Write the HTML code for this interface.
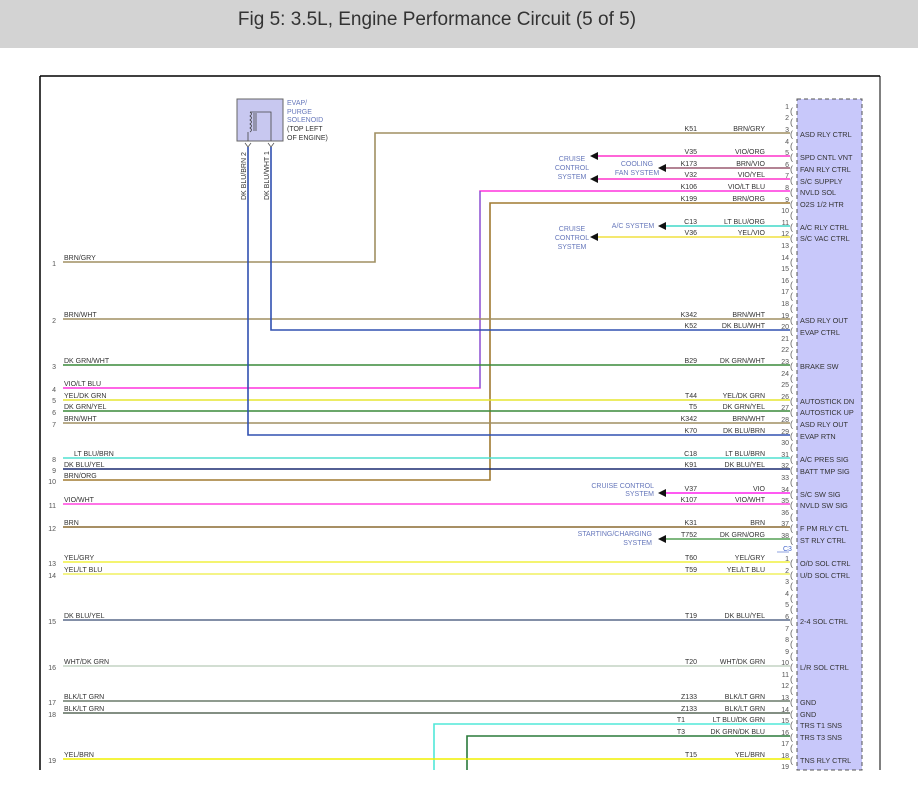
<!DOCTYPE html>
<html><head><meta charset="utf-8"><style>
html,body{margin:0;padding:0;background:#fff;}
body{width:918px;height:790px;overflow:hidden;position:relative;font-family:"Liberation Sans",sans-serif;}
#hdr{position:absolute;left:0;top:0;width:918px;height:48px;background:#d3d3d3;}
#hdr div{position:absolute;left:0;width:874px;top:9px;text-align:center;font-size:19px;color:#333;font-family:"Liberation Sans Narrow","Liberation Sans",sans-serif;}
svg{position:absolute;left:0;top:0;}
svg text{font-family:"Liberation Sans",sans-serif;}
.n{font-size:7px;fill:#555;text-anchor:end;}
.w{font-size:7px;fill:#333;text-anchor:end;}
.c{font-size:7px;fill:#333;text-anchor:end;}
.s{font-size:7.3px;fill:#333;}
.l{font-size:7px;fill:#333;}
.ln{font-size:7px;fill:#555;text-anchor:end;}
.b{font-size:9px;fill:#666;}
.sys{font-size:7px;fill:#6677bb;}
</style></head><body>
<div id="hdr"><div>Fig 5: 3.5L, Engine Performance Circuit (5 of 5)</div></div>
<svg width="918" height="790" viewBox="0 0 918 790">
<line x1="40" y1="76" x2="880" y2="76" stroke="#000" stroke-width="1.5"/>
<line x1="40" y1="76" x2="40" y2="770" stroke="#000" stroke-width="1.5"/>
<line x1="880" y1="76" x2="880" y2="770" stroke="#000" stroke-width="1"/>
<rect x="797" y="99" width="65" height="671" fill="#c8c8fa" stroke="#555" stroke-dasharray="4,3"/>
<!-- solenoid -->
<rect x="237" y="99" width="46" height="42" fill="#c8c8f0" stroke="#666"/>
<path d="M248 141 V132 M250 132 q3 -2 0 -4 q3 -2 0 -4 q3 -2 0 -4 q3 -2 0 -4 q3 -2 0 -4 M250 112 H271 V141" fill="none" stroke="#444" stroke-width="0.8"/>
<line x1="254" y1="113" x2="254" y2="131" stroke="#444" stroke-width="0.8"/>
<line x1="256" y1="113" x2="256" y2="131" stroke="#444" stroke-width="0.8"/>
<text x="287" y="105" class="sys">EVAP/</text>
<text x="287" y="114" class="sys">PURGE</text>
<text x="287" y="122" class="sys">SOLENOID</text>
<text x="287" y="131" class="l">(TOP LEFT</text>
<text x="287" y="140" class="l">OF ENGINE)</text>
<text transform="translate(246,200) rotate(-90)" class="l">DK BLU/BRN  2</text>
<text transform="translate(269,200) rotate(-90)" class="l">DK BLU/WHT  1</text>
<path d="M245 143 l3 4 l3 -4 M268 143 l3 4 l3 -4" fill="none" stroke="#555" stroke-width="0.8"/>
<!-- wires -->
<g fill="none" stroke-width="1.6">
<path d="M63 262 H375 V133 H790" stroke="#a08f62"/>
<path d="M597 156 H790" stroke="#ff33cc"/>
<path d="M665 168 H790" stroke="#9a5a70"/>
<path d="M597 179 H790" stroke="#ff33cc"/>
<path d="M790 191 H480 V388 H63" stroke="#ff33dd"/>
<path d="M480 191 V388" stroke="#5070d0" stroke-width="1"/>
<path d="M790 203 H490 V480 H63" stroke="#a07a30"/>
<path d="M665 226 H790" stroke="#40d8c8"/>
<path d="M597 237 H790" stroke="#f0e040"/>
<path d="M63 319 H790" stroke="#a08f62"/>
<path d="M790 330 H271 V147" stroke="#3050b0"/>
<path d="M63 365 H790" stroke="#3a8a3a"/>
<path d="M63 400 H790" stroke="#e6e630"/>
<path d="M63 411 H790" stroke="#3a8a3a"/>
<path d="M63 423 H790" stroke="#a08f62"/>
<path d="M790 435 H248 V147" stroke="#3050b0"/>
<path d="M63 458 H790" stroke="#50e0d0"/>
<path d="M63 469 H790" stroke="#1a2a70"/>
<path d="M665 493 H790" stroke="#ff22ee"/>
<path d="M63 504 H790" stroke="#ff44dd"/>
<path d="M63 527 H790" stroke="#8a6a30"/>
<path d="M665 539 H790" stroke="#55a055"/>
<path d="M63 562 H790" stroke="#f0f040"/>
<path d="M63 574 H790" stroke="#f0f060"/>
<path d="M63 620 H790" stroke="#5a6a8a"/>
<path d="M63 666 H790" stroke="#c4d4c4"/>
<path d="M63 701 H790" stroke="#6a7a6a"/>
<path d="M63 713 H790" stroke="#5a6a5a"/>
<path d="M790 724 H434 V770" stroke="#50e8d8"/>
<path d="M790 736 H467 V770" stroke="#2a7a3a"/>
<path d="M63 759 H790" stroke="#f0f000"/>
</g>
<!-- arrows -->
<g fill="#111">
<path d="M590 156 l8 -4 v8z"/><path d="M590 179 l8 -4 v8z"/><path d="M590 237 l8 -4 v8z"/>
<path d="M658 168 l8 -4 v8z"/><path d="M658 226 l8 -4 v8z"/><path d="M658 493 l8 -4 v8z"/><path d="M658 539 l8 -4 v8z"/>
</g>
<g class="sys" text-anchor="middle">
<text x="572" y="161">CRUISE</text><text x="572" y="170">CONTROL</text><text x="572" y="179">SYSTEM</text>
<text x="637" y="166">COOLING</text><text x="637" y="175">FAN SYSTEM</text>
<text x="633" y="228">A/C SYSTEM</text>
<text x="572" y="231">CRUISE</text><text x="572" y="240">CONTROL</text><text x="572" y="249">SYSTEM</text>
</g>
<g class="sys" text-anchor="end">
<text x="654" y="488">CRUISE CONTROL</text><text x="654" y="496">SYSTEM</text>
<text x="652" y="536">STARTING/CHARGING</text><text x="652" y="545">SYSTEM</text>
</g>
<!-- circuit codes -->
<g class="c">
<text x="697" y="131">K51</text><text x="697" y="154">V35</text><text x="697" y="166">K173</text><text x="697" y="177">V32</text><text x="697" y="189">K106</text><text x="697" y="201">K199</text><text x="697" y="224">C13</text><text x="697" y="235">V36</text>
<text x="697" y="317">K342</text><text x="697" y="328">K52</text><text x="697" y="363">B29</text><text x="697" y="398">T44</text><text x="697" y="409">T5</text><text x="697" y="421">K342</text><text x="697" y="433">K70</text><text x="697" y="456">C18</text><text x="697" y="467">K91</text><text x="697" y="491">V37</text><text x="697" y="502">K107</text><text x="697" y="525">K31</text><text x="697" y="537">T752</text>
<text x="697" y="560">T60</text><text x="697" y="572">T59</text><text x="697" y="618">T19</text><text x="697" y="664">T20</text><text x="697" y="699">Z133</text><text x="697" y="711">Z133</text><text x="685" y="722">T1</text><text x="685" y="734">T3</text><text x="697" y="757">T15</text>
</g>
<g class="w">
<text x="765" y="131">BRN/GRY</text><text x="765" y="154">VIO/ORG</text><text x="765" y="166">BRN/VIO</text><text x="765" y="177">VIO/YEL</text><text x="765" y="189">VIO/LT BLU</text><text x="765" y="201">BRN/ORG</text><text x="765" y="224">LT BLU/ORG</text><text x="765" y="235">YEL/VIO</text>
<text x="765" y="317">BRN/WHT</text><text x="765" y="328">DK BLU/WHT</text><text x="765" y="363">DK GRN/WHT</text><text x="765" y="398">YEL/DK GRN</text><text x="765" y="409">DK GRN/YEL</text><text x="765" y="421">BRN/WHT</text><text x="765" y="433">DK BLU/BRN</text><text x="765" y="456">LT BLU/BRN</text><text x="765" y="467">DK BLU/YEL</text><text x="765" y="491">VIO</text><text x="765" y="502">VIO/WHT</text><text x="765" y="525">BRN</text><text x="765" y="537">DK GRN/ORG</text>
<text x="765" y="560">YEL/GRY</text><text x="765" y="572">YEL/LT BLU</text><text x="765" y="618">DK BLU/YEL</text><text x="765" y="664">WHT/DK GRN</text><text x="765" y="699">BLK/LT GRN</text><text x="765" y="711">BLK/LT GRN</text><text x="765" y="722">LT BLU/DK GRN</text><text x="765" y="734">DK GRN/DK BLU</text><text x="765" y="757">YEL/BRN</text>
</g>
<!-- pin numbers -->
<g class="n">
<text x="789" y="109">1</text><text x="789" y="120">2</text><text x="789" y="132">3</text><text x="789" y="144">4</text><text x="789" y="155">5</text><text x="789" y="167">6</text><text x="789" y="178">7</text><text x="789" y="190">8</text><text x="789" y="202">9</text><text x="789" y="213">10</text><text x="789" y="225">11</text><text x="789" y="236">12</text><text x="789" y="248">13</text><text x="789" y="260">14</text><text x="789" y="271">15</text><text x="789" y="283">16</text><text x="789" y="294">17</text><text x="789" y="306">18</text><text x="789" y="318">19</text><text x="789" y="329">20</text><text x="789" y="341">21</text><text x="789" y="352">22</text><text x="789" y="364">23</text><text x="789" y="376">24</text><text x="789" y="387">25</text><text x="789" y="399">26</text><text x="789" y="410">27</text><text x="789" y="422">28</text><text x="789" y="434">29</text><text x="789" y="445">30</text><text x="789" y="457">31</text><text x="789" y="468">32</text><text x="789" y="480">33</text><text x="789" y="492">34</text><text x="789" y="503">35</text><text x="789" y="515">36</text><text x="789" y="526">37</text><text x="789" y="538">38</text>
<text x="789" y="561">1</text><text x="789" y="573">2</text><text x="789" y="584">3</text><text x="789" y="596">4</text><text x="789" y="607">5</text><text x="789" y="619">6</text><text x="789" y="631">7</text><text x="789" y="642">8</text><text x="789" y="654">9</text><text x="789" y="665">10</text><text x="789" y="677">11</text><text x="789" y="688">12</text><text x="789" y="700">13</text><text x="789" y="712">14</text><text x="789" y="723">15</text><text x="789" y="735">16</text><text x="789" y="746">17</text><text x="789" y="758">18</text><text x="789" y="769">19</text>
</g>
<text x="783" y="551" class="l" style="fill:#4466cc">C3</text>
<line x1="777" y1="552" x2="789" y2="552" stroke="#4466cc" stroke-width="0.6"/>
<!-- brackets -->
<g class="b">
<text x="790" y="114">(</text><text x="790" y="125">(</text><text x="790" y="137">(</text><text x="790" y="149">(</text><text x="790" y="160">(</text><text x="790" y="172">(</text><text x="790" y="183">(</text><text x="790" y="195">(</text><text x="790" y="207">(</text><text x="790" y="218">(</text><text x="790" y="230">(</text><text x="790" y="241">(</text><text x="790" y="253">(</text><text x="790" y="265">(</text><text x="790" y="276">(</text><text x="790" y="288">(</text><text x="790" y="299">(</text><text x="790" y="311">(</text><text x="790" y="323">(</text><text x="790" y="334">(</text><text x="790" y="346">(</text><text x="790" y="357">(</text><text x="790" y="369">(</text><text x="790" y="381">(</text><text x="790" y="392">(</text><text x="790" y="404">(</text><text x="790" y="415">(</text><text x="790" y="427">(</text><text x="790" y="439">(</text><text x="790" y="450">(</text><text x="790" y="462">(</text><text x="790" y="473">(</text><text x="790" y="485">(</text><text x="790" y="497">(</text><text x="790" y="508">(</text><text x="790" y="520">(</text><text x="790" y="531">(</text><text x="790" y="543">(</text>
<text x="790" y="566">(</text><text x="790" y="578">(</text><text x="790" y="589">(</text><text x="790" y="601">(</text><text x="790" y="612">(</text><text x="790" y="624">(</text><text x="790" y="636">(</text><text x="790" y="647">(</text><text x="790" y="659">(</text><text x="790" y="670">(</text><text x="790" y="682">(</text><text x="790" y="693">(</text><text x="790" y="705">(</text><text x="790" y="717">(</text><text x="790" y="728">(</text><text x="790" y="740">(</text><text x="790" y="751">(</text><text x="790" y="763">(</text>
</g>
<!-- side labels -->
<g class="s">
<text x="800" y="137">ASD RLY CTRL</text><text x="800" y="160">SPD CNTL VNT</text><text x="800" y="172">FAN RLY CTRL</text><text x="800" y="184">S/C SUPPLY</text><text x="800" y="195">NVLD SOL</text><text x="800" y="207">O2S 1/2 HTR</text><text x="800" y="230">A/C RLY CTRL</text><text x="800" y="241">S/C VAC CTRL</text>
<text x="800" y="323">ASD RLY OUT</text><text x="800" y="335">EVAP CTRL</text><text x="800" y="369">BRAKE SW</text><text x="800" y="404">AUTOSTICK DN</text><text x="800" y="415">AUTOSTICK UP</text><text x="800" y="427">ASD RLY OUT</text><text x="800" y="439">EVAP RTN</text><text x="800" y="462">A/C PRES SIG</text><text x="800" y="474">BATT TMP SIG</text><text x="800" y="497">S/C SW SIG</text><text x="800" y="508">NVLD SW SIG</text><text x="800" y="531">F PM RLY CTL</text><text x="800" y="543">ST RLY CTRL</text>
<text x="800" y="566">O/D SOL CTRL</text><text x="800" y="578">U/D SOL CTRL</text><text x="800" y="624">2-4 SOL CTRL</text><text x="800" y="670">L/R SOL CTRL</text><text x="800" y="705">GND</text><text x="800" y="717">GND</text><text x="800" y="728">TRS T1 SNS</text><text x="800" y="740">TRS T3 SNS</text><text x="800" y="763">TNS RLY CTRL</text>
</g>
<!-- left labels -->
<g class="l">
<text x="64" y="260">BRN/GRY</text><text x="64" y="317">BRN/WHT</text><text x="64" y="363">DK GRN/WHT</text><text x="64" y="386">VIO/LT BLU</text><text x="64" y="398">YEL/DK GRN</text><text x="64" y="409">DK GRN/YEL</text><text x="64" y="421">BRN/WHT</text><text x="74" y="456">LT BLU/BRN</text><text x="64" y="467">DK BLU/YEL</text><text x="64" y="478">BRN/ORG</text><text x="64" y="502">VIO/WHT</text><text x="64" y="525">BRN</text><text x="64" y="560">YEL/GRY</text><text x="64" y="572">YEL/LT BLU</text><text x="64" y="618">DK BLU/YEL</text><text x="64" y="664">WHT/DK GRN</text><text x="64" y="699">BLK/LT GRN</text><text x="64" y="711">BLK/LT GRN</text><text x="64" y="757">YEL/BRN</text>
</g>
<g class="ln">
<text x="56" y="266">1</text><text x="56" y="323">2</text><text x="56" y="369">3</text><text x="56" y="392">4</text><text x="56" y="403">5</text><text x="56" y="415">6</text><text x="56" y="427">7</text><text x="56" y="462">8</text><text x="56" y="473">9</text><text x="56" y="484">10</text><text x="56" y="508">11</text><text x="56" y="531">12</text><text x="56" y="566">13</text><text x="56" y="578">14</text><text x="56" y="624">15</text><text x="56" y="670">16</text><text x="56" y="705">17</text><text x="56" y="717">18</text><text x="56" y="763">19</text>
</g>
</svg>
</body></html>
